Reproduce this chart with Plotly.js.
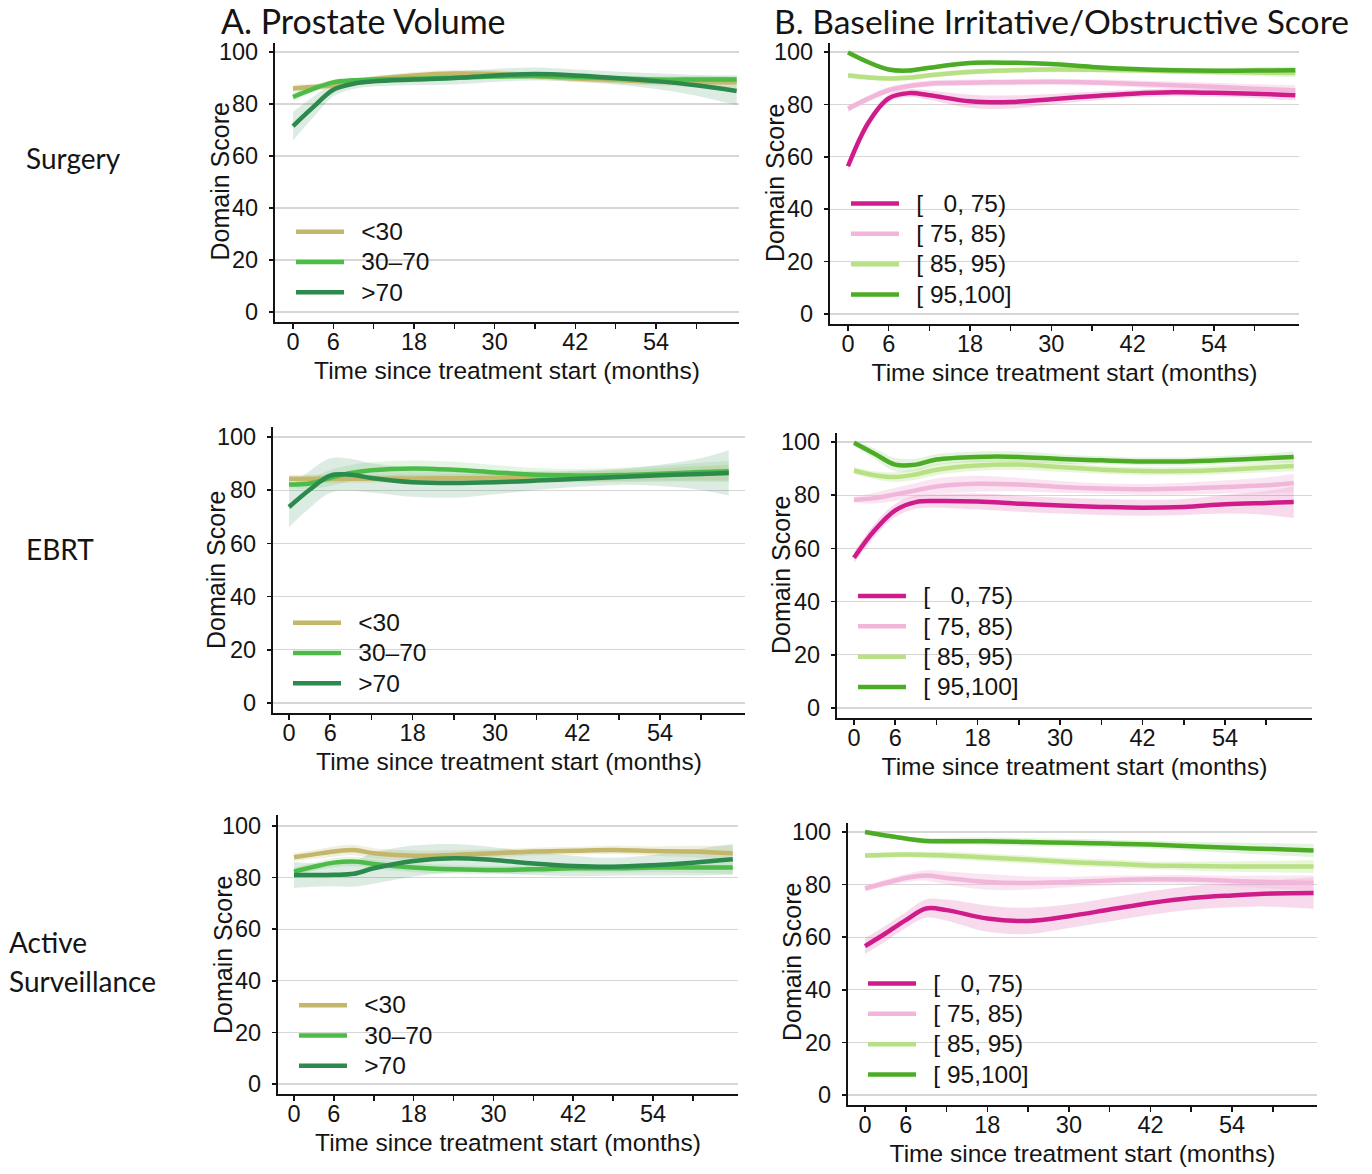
<!DOCTYPE html>
<html>
<head>
<meta charset="utf-8">
<script src="https://cdn.plot.ly/plotly-3.0.1.min.js"></script>
<style>
html,body{margin:0;padding:0;background:#ffffff;}
#chart{width:1372px;height:1174px;}
</style>
</head>
<body>
<div id="chart"></div>
<script>
// ---------------- DATA ----------------
const months66 = [0, 3, 6, 9, 12, 18, 24, 30, 36, 42, 48, 54, 60, 66];
const months64 = [0, 3, 6, 9, 12, 18, 24, 30, 36, 42, 48, 54, 60, 64];
const xTickVals = [0, 6, 12, 18, 24, 30, 36, 42, 48, 54, 60];
const xTickText = ['0', '6', '', '18', '', '30', '', '42', '', '54', ''];
const yTickVals = [0, 20, 40, 60, 80, 100];

const volumeGroups = ['<30', '30\u201370', '>70'];
const baselineGroups = ['[\u00a0\u20070, 75)', '[\u00a075, 85)', '[\u00a085, 95)', '[\u00a095,100]'];
const rowLabels = ['Surgery', 'EBRT', 'Active', 'Surveillance'];
const columnTitles = ['A. Prostate Volume', 'B. Baseline Irritative/Obstructive Score'];

// Surgery - prostate volume
const a1_lt30 = [86, 86.5, 87.2, 88.3, 89.5, 91, 91.7, 91.5, 90.8, 89.8, 89.2, 88.6, 88.4, 88.4];
const a1_3070 = [82.7, 85.8, 88.3, 89.1, 89.4, 89.7, 90.1, 90.6, 90.8, 90.4, 89.9, 89.4, 89.4, 89.4];
const a1_gt70 = [71.5, 78.8, 85.5, 87.8, 88.7, 89.4, 90, 91, 91.5, 91, 90, 88.8, 87.2, 85];
const a1_ci_lt30 = [1.5, 1.3, 1.2, 1.2, 1.2, 1.3, 1.4, 1.4, 1.4, 1.4, 1.4, 1.5, 1.8, 2.2];
const a1_ci_3070 = [1.5, 1.3, 1.1, 1, 1, 1, 1, 1, 1, 1, 1.1, 1.2, 1.5, 1.8];
const a1_ci_gt70 = [5.5, 4, 2.5, 2, 2, 2.2, 2.5, 2.5, 2.5, 2.3, 2.5, 3, 4, 5.5];

// Surgery - baseline score
const b1_0 = [56.4, 73, 82.3, 84.3, 83.5, 81.2, 80.9, 82, 83.1, 84.1, 84.6, 84.4, 84.1, 83.5];
const b1_75 = [78.3, 82.2, 85.4, 87, 87.9, 88.3, 88.5, 88.6, 88.4, 87.9, 87.3, 86.7, 86, 85.4];
const b1_85 = [91, 90.3, 89.9, 90.2, 91.1, 92.4, 93, 93.3, 93.2, 93, 92.7, 92.4, 92.2, 92];
const b1_95 = [99.8, 96.1, 93.3, 92.9, 94, 95.8, 95.9, 95.4, 94.3, 93.5, 93, 92.8, 92.9, 93];
const b1_ci_0 = [1.5, 1.5, 1.5, 1.5, 1.8, 2.5, 2.5, 2, 1.7, 1.5, 1.5, 1.5, 1.7, 2];
const b1_ci_75 = [1.2, 1.2, 1.2, 1.2, 1.2, 1.2, 1.2, 1.2, 1.2, 1.3, 1.4, 1.6, 1.8, 2];
const b1_ci_85 = [1, 1, 1, 1, 1, 1, 1, 1, 1, 1, 1.1, 1.2, 1.4, 1.6];
const b1_ci_95 = [0.8, 0.8, 0.8, 0.8, 0.8, 0.8, 0.8, 0.8, 0.8, 0.9, 1, 1.1, 1.3, 1.5];

// EBRT - prostate volume
const a2_lt30 = [84.3, 84.3, 84.3, 84.3, 84.3, 84.4, 84.5, 84.6, 84.8, 85.1, 85.5, 85.9, 86.3, 86.6];
const a2_3070 = [82.1, 82.5, 84.6, 86.5, 87.5, 88.2, 87.7, 86.7, 85.8, 85.5, 85.7, 86.2, 86.8, 87.1];
const a2_gt70 = [73.7, 80.2, 85.5, 85.8, 84.6, 83, 82.7, 83, 83.6, 84.3, 85, 85.6, 86.1, 86.5];
const a2_ci_lt30 = [1.5, 1.5, 1.5, 1.5, 1.5, 1.5, 1.5, 1.6, 1.7, 1.8, 2, 2.3, 2.7, 3];
const a2_ci_3070 = [1.5, 2, 3, 3, 3, 3, 3, 2.8, 2.5, 2.5, 2.7, 3, 3.5, 4];
const a2_ci_gt70 = [7.5, 7, 6.5, 6, 5.5, 5.5, 5.5, 4.5, 3.5, 3, 3, 4, 6, 8.5];

// EBRT - baseline score
const b2_0 = [56.5, 66.8, 74.3, 77.4, 77.8, 77.6, 76.8, 76.1, 75.6, 75.3, 75.6, 76.6, 77.1, 77.4];
const b2_75 = [78.3, 78.9, 80.3, 81.8, 83.3, 84.3, 84, 83.1, 82.5, 82.2, 82.5, 83.1, 83.7, 84.6];
const b2_85 = [89.3, 87.5, 86.8, 87.8, 89.6, 91.2, 91.5, 90.6, 89.6, 89.1, 89.1, 89.6, 90.4, 91];
const b2_95 = [99.7, 95.6, 91.5, 91.5, 93.4, 94.4, 94.4, 93.6, 93.1, 92.7, 92.7, 93.2, 93.9, 94.4];
const b2_ci_0 = [2, 2.5, 2.5, 2.5, 2.5, 3, 3, 3, 3, 3, 3, 3.5, 4.5, 6];
const b2_ci_75 = [1, 2, 2.5, 2.8, 3, 3, 2.5, 2.2, 2, 2, 2.2, 2.5, 3, 3.5];
const b2_ci_85 = [1.2, 1.5, 1.8, 2, 2, 2, 2, 1.8, 1.5, 1.5, 1.5, 1.6, 1.8, 2];
const b2_ci_95 = [1, 2, 2.5, 2.3, 2, 2, 2, 1.8, 1.5, 1.5, 1.5, 1.6, 1.8, 2];

// Active surveillance - prostate volume
const a3_lt30 = [87.9, 89, 90.1, 90.7, 89.4, 88.5, 88.8, 89.4, 90.1, 90.4, 90.7, 90.3, 90.1, 89.4];
const a3_3070 = [82.3, 84.2, 85.8, 86.2, 85.3, 83.9, 83.2, 82.9, 83.2, 83.6, 83.6, 83.9, 83.9, 83.9];
const a3_gt70 = [81, 81, 81.1, 81.5, 83.6, 86.4, 87.5, 86.8, 85.5, 84.5, 84.2, 84.8, 85.8, 87.1];
const a3_ci_lt30 = [1.5, 1.7, 2, 2, 2, 2, 1.8, 1.6, 1.5, 1.5, 1.6, 1.8, 2.2, 3];
const a3_ci_3070 = [1.5, 1.6, 1.8, 1.8, 1.8, 1.8, 1.7, 1.6, 1.5, 1.5, 1.6, 1.8, 2, 2.5];
const a3_ci_gt70 = [5, 4.5, 4.5, 5, 6, 6, 5.5, 5, 4.5, 4, 3.5, 4, 5, 6];

// Active surveillance - baseline score
const b3_0 = [56.6, 61.4, 66.5, 70.9, 70.3, 67.1, 66.2, 68, 70.5, 73, 74.9, 75.9, 76.6, 76.8];
const b3_75 = [78.5, 80.6, 82.5, 83.5, 82.5, 81, 80.6, 81, 81.6, 82, 81.9, 81.4, 81, 80.6];
const b3_85 = [91.1, 91.3, 91.4, 91.3, 91.1, 90.3, 89.5, 88.6, 88, 87.3, 87.1, 86.9, 86.9, 86.9];
const b3_95 = [100, 98.7, 97.5, 96.6, 96.5, 96.5, 96.2, 95.9, 95.6, 95.2, 94.6, 94, 93.5, 93];
const b3_ci_0 = [3, 3, 3, 3.5, 4, 5, 5, 4.5, 4.5, 4.5, 4.5, 4.5, 5, 6];
const b3_ci_75 = [1, 1.2, 1.5, 2, 2.5, 3, 2.5, 2, 1.8, 1.5, 1.7, 2, 2.5, 3];
const b3_ci_85 = [1, 1, 1, 1.2, 1.4, 1.5, 1.5, 1.5, 1.5, 1.5, 1.7, 2, 2.2, 2.5];
const b3_ci_95 = [0.5, 0.7, 0.9, 1.1, 1.3, 1.5, 1.5, 1.5, 1.5, 1.5, 1.7, 2, 2.2, 2.5];

// ---------------- STYLE ----------------
const volumeColors = ['#c3b76c', '#4cbb47', '#2b8a4c'];
const volumeFills = ['rgba(195,183,108,0.22)', 'rgba(76,187,71,0.15)', 'rgba(43,138,76,0.16)'];
const baselineColors = ['#d01c8b', '#f1b6da', '#b8e186', '#4dac26'];
const baselineFills = ['rgba(208,28,139,0.16)', 'rgba(241,182,218,0.35)', 'rgba(184,225,134,0.3)', 'rgba(77,172,38,0.15)'];

const W = 1372, H = 1174;
const TICK_FONT = 'Liberation Sans, Arial, Helvetica, sans-serif';
const LABEL_FONT = 'Lato, Carlito, Calibri, sans-serif';
const INK = '#141414';
const LEG_FS = 21;            // sets the legend row pitch
const LEG_TEXT_FS = 24.5;     // visible legend text size
const LEG_ITEM_H = LEG_FS * 1.3 + 3;
const LEG_GAP = '\u2002\u200a';

// pixel geometry of each panel (layout only)
const geom = [
  {L: 275, R: 739, T: 43, B: 322, x0: 293, x54: 656, y0: 312, y100: 52, legSample: 296, legMid: 261, ytx: 219.5, yty: 181},
  {L: 830, R: 1299, T: 43, B: 324, x0: 848, x54: 1214, y0: 314, y100: 52, legSample: 851, legMid: 248, ytx: 775, yty: 183},
  {L: 273, R: 745, T: 427, B: 713, x0: 289, x54: 660, y0: 703, y100: 437, legSample: 293, legMid: 652, ytx: 216, yty: 570},
  {L: 837, R: 1312, T: 433, B: 718, x0: 854, x54: 1225, y0: 708, y100: 442, legSample: 858, legMid: 640.5, ytx: 781, yty: 575},
  {L: 278, R: 738, T: 815, B: 1094, x0: 294, x54: 653, y0: 1084, y100: 826, legSample: 299, legMid: 1034.5, ytx: 223, yty: 955},
  {L: 848, R: 1317, T: 823, B: 1105, x0: 865, x54: 1232, y0: 1095, y100: 832, legSample: 868, legMid: 1028, ytx: 792, yty: 962}
];

const panels = [
  {t: months66, names: volumeGroups, colors: volumeColors, fills: volumeFills, ys: [a1_lt30, a1_3070, a1_gt70], cis: [a1_ci_lt30, a1_ci_3070, a1_ci_gt70]},
  {t: months66, names: baselineGroups, colors: baselineColors, fills: baselineFills, ys: [b1_0, b1_75, b1_85, b1_95], cis: [b1_ci_0, b1_ci_75, b1_ci_85, b1_ci_95]},
  {t: months64, names: volumeGroups, colors: volumeColors, fills: volumeFills, ys: [a2_lt30, a2_3070, a2_gt70], cis: [a2_ci_lt30, a2_ci_3070, a2_ci_gt70]},
  {t: months64, names: baselineGroups, colors: baselineColors, fills: baselineFills, ys: [b2_0, b2_75, b2_85, b2_95], cis: [b2_ci_0, b2_ci_75, b2_ci_85, b2_ci_95]},
  {t: months66, names: volumeGroups, colors: volumeColors, fills: volumeFills, ys: [a3_lt30, a3_3070, a3_gt70], cis: [a3_ci_lt30, a3_ci_3070, a3_ci_gt70]},
  {t: months66, names: baselineGroups, colors: baselineColors, fills: baselineFills, ys: [b3_0, b3_75, b3_85, b3_95], cis: [b3_ci_0, b3_ci_75, b3_ci_85, b3_ci_95]}
];

function escapeText(s) {
  return s.replace(/&/g, '&amp;').replace(/</g, '&lt;').replace(/>/g, '&gt;');
}

const traces = [];
const layout = {
  width: W, height: H,
  margin: {l: 0, r: 0, t: 0, b: 0},
  paper_bgcolor: '#ffffff', plot_bgcolor: 'rgba(0,0,0,0)',
  showlegend: true,
  font: {family: TICK_FONT, color: INK},
  annotations: [],
  hovermode: false
};

panels.forEach(function (p, i) {
  const n = i + 1;
  const xs = n === 1 ? 'x' : 'x' + n;
  const ys = n === 1 ? 'y' : 'y' + n;
  const legName = n === 1 ? 'legend' : 'legend' + n;
  const g = geom[i];
  const pxX = (g.x54 - g.x0) / 54;
  const pxY = (g.y0 - g.y100) / 100;

  // confidence bands
  p.ys.forEach(function (yv, k) {
    const lo = yv.map(function (v, j) { return v - p.cis[k][j]; });
    const hi = yv.map(function (v, j) { return v + p.cis[k][j]; });
    traces.push({x: p.t, y: lo, xaxis: xs, yaxis: ys, type: 'scatter', mode: 'lines',
      line: {width: 0, shape: 'spline', smoothing: 1}, showlegend: false, hoverinfo: 'skip'});
    traces.push({x: p.t, y: hi, xaxis: xs, yaxis: ys, type: 'scatter', mode: 'lines',
      line: {width: 0, shape: 'spline', smoothing: 1}, fill: 'tonexty', fillcolor: p.fills[k],
      showlegend: false, hoverinfo: 'skip'});
  });
  // main lines
  p.ys.forEach(function (yv, k) {
    traces.push({x: p.t, y: yv, xaxis: xs, yaxis: ys, type: 'scatter', mode: 'lines',
      name: LEG_GAP + '<span style="font-size:' + LEG_TEXT_FS + 'px">' + escapeText(p.names[k]) + '</span>',
      legend: legName,
      line: {color: p.colors[k], width: 4.5, shape: 'spline', smoothing: 1}});
  });

  const xKey = n === 1 ? 'xaxis' : 'xaxis' + n;
  const yKey = n === 1 ? 'yaxis' : 'yaxis' + n;
  layout[xKey] = {
    domain: [g.L / W, g.R / W],
    range: [(g.L - g.x0) / pxX, (g.R - g.x0) / pxX],
    anchor: ys,
    tickmode: 'array', tickvals: xTickVals, ticktext: xTickText,
    ticks: 'outside', ticklen: 5, tickwidth: 1.5, tickcolor: INK,
    ticklabelstandoff: -7,
    showline: true, linecolor: INK, linewidth: 2.2,
    showgrid: false, zeroline: false,
    tickfont: {family: TICK_FONT, size: 23.5, color: INK},
    title: {text: 'Time since treatment start (months)', font: {family: TICK_FONT, size: 24.5, color: INK}, standoff: 8},
    fixedrange: true
  };
  layout[yKey] = {
    domain: [1 - g.B / H, 1 - g.T / H],
    range: [-(g.B - g.y0) / pxY, 100 + (g.y100 - g.T) / pxY],
    anchor: xs,
    tickmode: 'array', tickvals: yTickVals,
    ticks: 'outside', ticklen: 4, tickwidth: 1.5, tickcolor: INK,
    ticklabelstandoff: 6,
    showline: true, linecolor: INK, linewidth: 2.2,
    showgrid: true, gridcolor: '#d6d6d6', gridwidth: 1.2, zeroline: false,
    tickfont: {family: TICK_FONT, size: 23.5, color: INK},
    fixedrange: true
  };
  layout.annotations.push({
    text: 'Domain Score', xref: 'paper', yref: 'paper',
    x: g.ytx / W, y: 1 - g.yty / H, xanchor: 'center', yanchor: 'middle',
    textangle: -90, showarrow: false,
    font: {family: TICK_FONT, size: 25, color: INK}
  });
  const nItems = p.names.length;
  const legTop = g.legMid - (nItems - 1) / 2 * LEG_ITEM_H - (LEG_ITEM_H / 2 + 4);
  layout[legName] = {
    x: (g.legSample - 5) / W, y: 1 - legTop / H, xanchor: 'left', yanchor: 'top',
    bgcolor: 'rgba(0,0,0,0)', borderwidth: 0,
    font: {family: TICK_FONT, size: LEG_FS, color: INK},
    itemwidth: 48, tracegroupgap: 0, traceorder: 'normal'
  };
});

// column titles and row labels
layout.annotations.push({text: columnTitles[0], xref: 'paper', yref: 'paper', x: 219 / W, y: 1 - 21 / H,
  xanchor: 'left', yanchor: 'middle', showarrow: false, font: {family: LABEL_FONT, size: 34, color: INK}});
layout.annotations.push({text: columnTitles[1], xref: 'paper', yref: 'paper', x: 772 / W, y: 1 - 21 / H,
  xanchor: 'left', yanchor: 'middle', showarrow: false, font: {family: LABEL_FONT, size: 33.6, color: INK}});
const rowPos = [[24, 158], [24, 549], [7, 942], [7, 981]];
rowLabels.forEach(function (lab, i) {
  layout.annotations.push({text: lab, xref: 'paper', yref: 'paper', x: rowPos[i][0] / W, y: 1 - rowPos[i][1] / H,
    xanchor: 'left', yanchor: 'middle', showarrow: false, font: {family: LABEL_FONT, size: 28, color: INK}});
});

Plotly.newPlot('chart', traces, layout, {displayModeBar: false, staticPlot: true});
</script>
</body>
</html>
